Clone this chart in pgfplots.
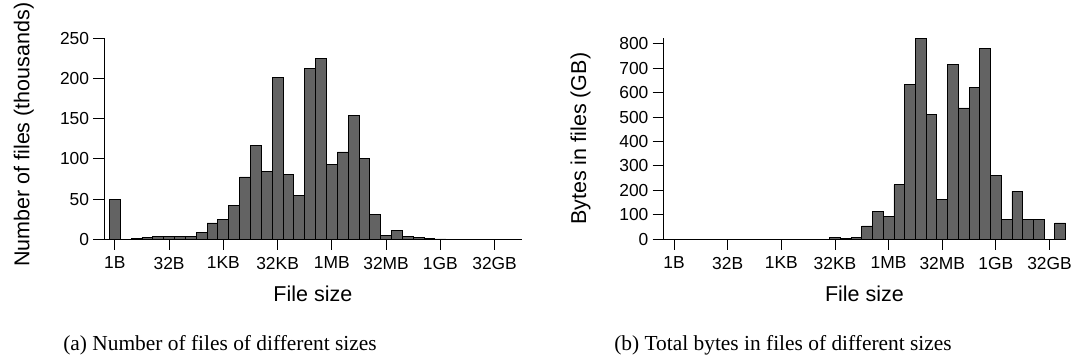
\documentclass[border=0pt]{standalone}
\usepackage{fontspec}
\setmainfont{Liberation Sans}
\newfontfamily\capfont{Liberation Serif}
\usepackage{pgfplots}
\usepackage{pgfplotstable}
\pgfplotsset{compat=1.18}
\definecolor{barfill}{HTML}{636363}

\pgfplotstableread{
bin val
0 50
1 0
2 0.8
3 2.5
4 3.7
5 3.3
6 3.7
7 3.7
8 7.9
9 20.3
10 24.5
11 42.3
12 77.5
13 117
14 84
15 201
16 81
17 54.7
18 212.7
19 224.7
20 92.5
21 108.6
22 154.2
23 100.3
24 31.1
25 5
26 10.8
27 3.7
28 2.5
29 1.2
30 0.4
31 0.1
32 0
33 0
34 0
35 0
36 0
37 0
}\filestable

\pgfplotstableread{
bin val
0 0
1 0
2 0
3 0
4 0
5 0
6 0
7 0
8 0
9 0
10 0
11 0
12 0
13 0.3
14 1
15 7
16 4
17 8
18 54.4
19 114
20 94
21 223
22 634
23 822
24 510
25 163
26 714
27 537
28 619
29 780
30 260
31 83
32 196
33 83
34 83
35 0
36 66.7
}\bytestable

\pgfplotsset{
  hist/.style={
    scale only axis,
    height=201pt,
    axis lines=left,
    axis line style={-, line width=0.9pt},
    tick style={line width=0.9pt, black},
    tick align=outside,
    major tick length=10.7pt,
    xtick={0,5,...,35},
    xticklabels={1B,32B,1KB,32KB,1MB,32MB,1GB,32GB},
    ymin=0, xmin=-1,
    clip=false,
    /pgf/number format/assume math mode=true,
    ticklabel style={font=\fontsize{17.4}{20}\selectfont},
    yticklabel style={inner xsep=4pt},
    xticklabel style={yshift=-3.5pt},
    label style={font=\fontsize{21.5}{25}\selectfont},
    xlabel={File size},
    xlabel style={at={(axis description cs:0.5,-0.31)}, anchor=base},
  },
  bars/.style={ybar, bar width=1, fill=barfill, draw=black, line width=0.9pt},
}

\begin{document}
\begin{tikzpicture}[x=1pt,y=1pt]
\useasboundingbox (0,0) rectangle (1071,358);

\begin{axis}[hist,
  at={(104pt,118.7pt)}, anchor=south west,
  width=417.7pt, xmax=37.5,
  ymax=250, ytick={0,50,...,250},
  ylabel={Number of files (thousands)},
  ylabel style={at={(axis description cs:-0.1788,0.52)}, anchor=base, rotate=0},
]
\addplot[bars] table[x=bin,y=val]{\filestable};
\end{axis}

\begin{axis}[hist,
  at={(663.3pt,118.7pt)}, anchor=south west,
  width=402.3pt, xmax=36.5,
  ymax=822, ytick={0,100,...,800},
  ylabel={Bytes in files (GB)},
  ylabel style={at={(axis description cs:-0.192,0.5)}, anchor=base, rotate=0},
]
\addplot[bars] table[x=bin,y=val]{\bytestable};
\end{axis}

\node[anchor=base, font=\capfont\fontsize{21.4}{25}\selectfont] at (220,7) {(a) Number of files of different sizes};
\node[anchor=base, font=\capfont\fontsize{21.4}{25}\selectfont] at (783,7) {(b) Total bytes in files of different sizes};
\end{tikzpicture}
\end{document}
